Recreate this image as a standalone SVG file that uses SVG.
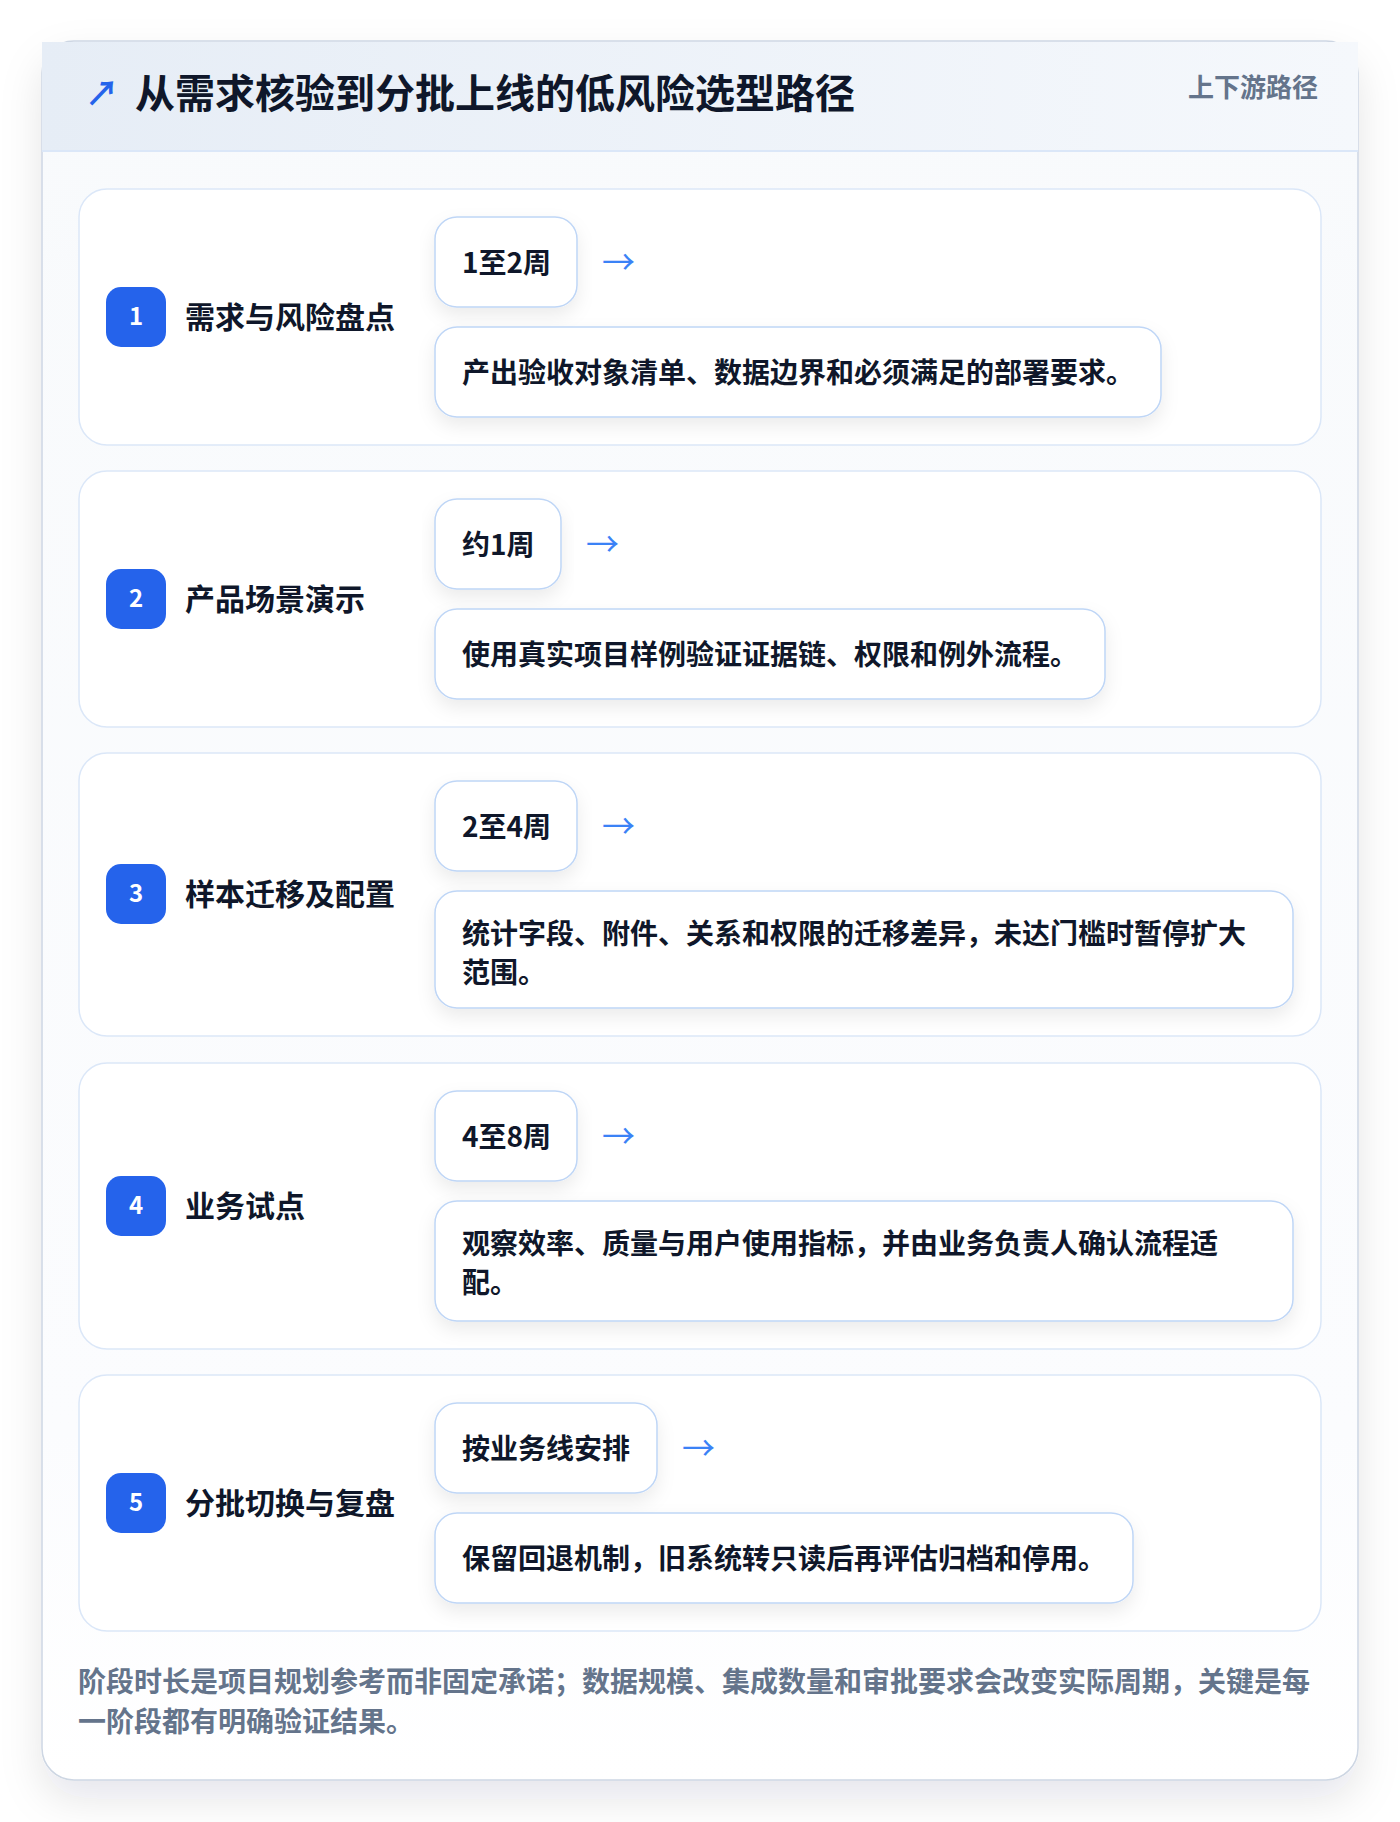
<svg xmlns="http://www.w3.org/2000/svg" width="1400" height="1822" viewBox="0 0 1400 1822">
<defs>
<linearGradient id="hdr" x1="0" y1="0" x2="1" y2="0">
<stop offset="0" stop-color="#e6edf6"/>
<stop offset="1" stop-color="#f5f8fc"/>
</linearGradient>
<linearGradient id="body" x1="0" y1="0" x2="0" y2="1">
<stop offset="0" stop-color="#f8fafc"/>
<stop offset="0.8" stop-color="#fbfcfe"/>
<stop offset="1" stop-color="#ffffff"/>
</linearGradient>
<filter id="cardShadow" x="-10%" y="-10%" width="120%" height="120%">
<feDropShadow dx="0" dy="18" stdDeviation="20" flood-color="#0f172a" flood-opacity="0.10"/>
</filter>
<filter id="boxShadow" x="-10%" y="-30%" width="120%" height="170%">
<feDropShadow dx="0" dy="8" stdDeviation="9" flood-color="#0f172a" flood-opacity="0.08"/>
</filter>
<style>
.t{font-family:"Noto Sans CJK SC","Noto Sans",sans-serif;font-weight:700;}
.title{font-size:40px;fill:#0f172a;}
.tag{font-size:26px;fill:#64748b;}
.sec{fill:#ffffff;stroke:#dbe7f8;stroke-width:1.5;}
.badge{fill:#2563eb;}
.num{font-size:24px;fill:#ffffff;}
.lbl{font-size:30px;fill:#0f172a;}
.box{fill:#ffffff;stroke:#bfd6f6;stroke-width:1.5;}
.txt{font-size:28px;fill:#0f172a;}
.arr{font-size:33px;fill:#3b82f6;font-weight:400;}
.foot{font-size:28px;fill:#64748b;}
</style>
</defs>
<rect width="1400" height="1822" fill="#ffffff"/>
<g id="card">
<rect x="42" y="41" width="1316" height="1739" rx="32" fill="url(#body)" stroke="#cdd6e3" stroke-width="1.5" filter="url(#cardShadow)"/>
<rect x="42" y="42" width="1316" height="109" fill="url(#hdr)"/>
<line x1="42" y1="151" x2="1358" y2="151" stroke="#dbe7f8" stroke-width="2"/>
<text class="t" x="85" y="106" font-size="34" fill="#2563eb">↗</text>
<text class="t title" x="135" y="108">从需求核验到分批上线的低风险选型路径</text>
<text class="t tag" x="1318" y="97" text-anchor="end">上下游路径</text>
</g>
<g id="stage1">
<rect class="sec" x="79" y="189" width="1242" height="256" rx="28"/>
<rect class="badge" x="106" y="287" width="60" height="60" rx="15"/>
<text class="t num" x="136" y="325" text-anchor="middle">1</text>
<text class="t lbl" x="185" y="328">需求与风险盘点</text>
<rect class="box" x="435" y="217" width="142" height="90" rx="22" filter="url(#boxShadow)"/>
<text class="t txt" x="462" y="273">1至2周</text>
<rect class="box" x="435" y="327" width="726" height="90" rx="22" filter="url(#boxShadow)"/>
<text class="t txt" x="462" y="383">产出验收对象清单、数据边界和必须满足的部署要求。</text>
</g>
<g id="stage2">
<rect class="sec" x="79" y="471" width="1242" height="256" rx="28"/>
<rect class="badge" x="106" y="569" width="60" height="60" rx="15"/>
<text class="t num" x="136" y="607" text-anchor="middle">2</text>
<text class="t lbl" x="185" y="610">产品场景演示</text>
<rect class="box" x="435" y="499" width="126" height="90" rx="22" filter="url(#boxShadow)"/>
<text class="t txt" x="462" y="555">约1周</text>
<rect class="box" x="435" y="609" width="670" height="90" rx="22" filter="url(#boxShadow)"/>
<text class="t txt" x="462" y="665">使用真实项目样例验证证据链、权限和例外流程。</text>
</g>
<g id="stage3">
<rect class="sec" x="79" y="753" width="1242" height="283" rx="28"/>
<rect class="badge" x="106" y="864" width="60" height="60" rx="15"/>
<text class="t num" x="136" y="902" text-anchor="middle">3</text>
<text class="t lbl" x="185" y="905">样本迁移及配置</text>
<rect class="box" x="435" y="781" width="142" height="90" rx="22" filter="url(#boxShadow)"/>
<text class="t txt" x="462" y="837">2至4周</text>
<rect class="box" x="435" y="891" width="858" height="117" rx="22" filter="url(#boxShadow)"/>
<text class="t txt" x="462" y="944">统计字段、附件、关系和权限的迁移差异，未达门槛时暂停扩大</text>
<text class="t txt" x="462" y="983">范围。</text>
</g>
<g id="stage4">
<rect class="sec" x="79" y="1063" width="1242" height="286" rx="28"/>
<rect class="badge" x="106" y="1176" width="60" height="60" rx="15"/>
<text class="t num" x="136" y="1214" text-anchor="middle">4</text>
<text class="t lbl" x="185" y="1217">业务试点</text>
<rect class="box" x="435" y="1091" width="142" height="90" rx="22" filter="url(#boxShadow)"/>
<text class="t txt" x="462" y="1147">4至8周</text>
<rect class="box" x="435" y="1201" width="858" height="120" rx="22" filter="url(#boxShadow)"/>
<text class="t txt" x="462" y="1254">观察效率、质量与用户使用指标，并由业务负责人确认流程适</text>
<text class="t txt" x="462" y="1293">配。</text>
</g>
<g id="stage5">
<rect class="sec" x="79" y="1375" width="1242" height="256" rx="28"/>
<rect class="badge" x="106" y="1473" width="60" height="60" rx="15"/>
<text class="t num" x="136" y="1511" text-anchor="middle">5</text>
<text class="t lbl" x="185" y="1514">分批切换与复盘</text>
<rect class="box" x="435" y="1403" width="222" height="90" rx="22" filter="url(#boxShadow)"/>
<text class="t txt" x="462" y="1459">按业务线安排</text>
<rect class="box" x="435" y="1513" width="698" height="90" rx="22" filter="url(#boxShadow)"/>
<text class="t txt" x="462" y="1569">保留回退机制，旧系统转只读后再评估归档和停用。</text>
</g>
<g id="connectors">
<text class="t arr" x="602" y="274">→</text>
<text class="t arr" x="586" y="556">→</text>
<text class="t arr" x="602" y="838">→</text>
<text class="t arr" x="602" y="1148">→</text>
<text class="t arr" x="682" y="1460">→</text>
</g>
<g id="footer">
<text class="t foot" x="78" y="1692">阶段时长是项目规划参考而非固定承诺；数据规模、集成数量和审批要求会改变实际周期，关键是每</text>
<text class="t foot" x="78" y="1732">一阶段都有明确验证结果。</text>
</g>
</svg>
